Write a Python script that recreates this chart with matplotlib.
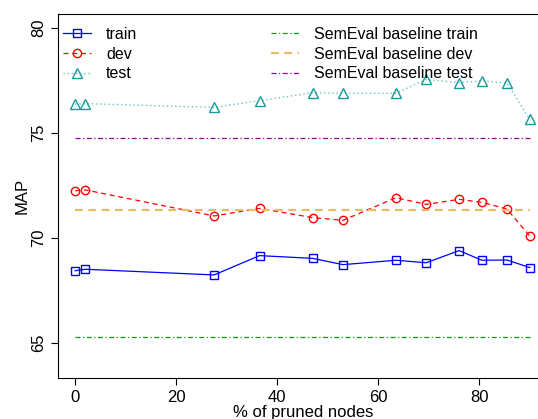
import matplotlib
matplotlib.use("Agg")
import matplotlib.pyplot as plt

plt.rcParams['font.family'] = ['Liberation Sans', 'DejaVu Sans']

# % of pruned nodes
pruned = [0, 2, 27.5, 36.5, 47, 53, 63.5, 69.5, 76, 80.5, 85.5, 90]

# MAP per split
train = [68.44, 68.51, 68.24, 69.16, 69.03, 68.73, 68.94, 68.82, 69.40, 68.94, 68.95, 68.59]
dev = [72.25, 72.29, 71.05, 71.41, 70.97, 70.84, 71.92, 71.60, 71.84, 71.70, 71.38, 70.08]
test = [76.38, 76.40, 76.22, 76.54, 76.92, 76.89, 76.89, 77.56, 77.40, 77.49, 77.37, 75.65]

# SemEval baselines
base_train = 65.3
base_dev = 71.33
base_test = 74.78
base_x = [0, 90]

fig = plt.figure(figsize=(5.38, 4.19), dpi=100)
ax = fig.add_axes([58/538, 1 - 378/419, 490/538, 364/419])

ax.plot(pruned, train, color='#0000ff', linestyle='-', lw=0.9, marker='s',
        ms=5.5, mfc='none', mew=1.0, label='train')
ax.plot(pruned, dev, color='#ff0000', linestyle=(0, (4, 3)), lw=0.9, marker='o',
        ms=6, mfc='none', mew=1.0, label='dev')
ax.plot(pruned, test, color='#66c4c4', linestyle=(0, (1, 2)), lw=1.0, marker='^',
        ms=7, mfc='none', mec='#1a9a9a', mew=1.0, label='test')

ax.plot(base_x, [base_train] * 2, color='#119911', linestyle=(0, (4, 2, 1, 2)), lw=0.9,
        label='SemEval baseline train')
ax.plot(base_x, [base_dev] * 2, color='#e6bc6a', linestyle=(0, (3.5, 2.5)), lw=1.6,
        label='SemEval baseline dev')
ax.plot(base_x, [base_test] * 2, color='#990099', linestyle=(0, (4, 2, 1, 2)), lw=0.9,
        label='SemEval baseline test')

ax.set_xlim(-3.4, 93.6)
ax.set_ylim(63.33, 80.67)
ax.set_xticks([0, 20, 40, 60, 80])
ax.set_yticks([65, 70, 75, 80])
ax.tick_params(axis='both', labelsize=12, length=5, width=0.8, direction='out')
for lab in ax.get_yticklabels():
    lab.set_rotation(90)
    lab.set_va('center')
ax.spines['right'].set_visible(False)
ax.set_xlabel('% of pruned nodes', fontsize=12, labelpad=0)
ax.set_ylabel('MAP', fontsize=12, labelpad=1)

ax.legend(ncol=2, frameon=False, fontsize=11.5, loc='upper left',
          bbox_to_anchor=(0.0, 0.978), handlelength=1.75, columnspacing=8.4,
          labelspacing=0.3, handletextpad=0.95, borderaxespad=0.0,
          borderpad=0.3)

fig.savefig('out.png', dpi=100)
